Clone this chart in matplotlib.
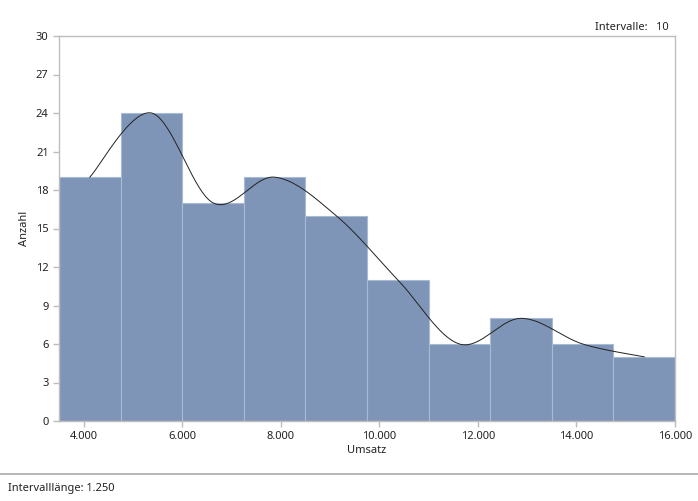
import numpy as np
import matplotlib
matplotlib.use('Agg')
from matplotlib import pyplot as plt

plt.rcParams['font.family'] = ['Noto Sans', 'DejaVu Sans']
plt.rcParams['font.size'] = 8

# histogram data
bin_edges = [3500, 4750, 6000, 7250, 8500, 9750, 11000, 12250, 13500, 14750, 16000]
counts = [19, 24, 17, 19, 16, 11, 6, 8, 6, 5]
x_ticks = [4000, 6000, 8000, 10000, 12000, 14000, 16000]
y_ticks = [0, 3, 6, 9, 12, 15, 18, 21, 24, 27, 30]


def catmull_rom(xs, ys, steps=40):
    """ cardinal (Catmull-Rom) spline through the bar tops """
    pts = np.column_stack([xs, ys]).astype(float)
    pts = np.vstack([pts[0], pts, pts[-1]])
    t = np.linspace(0, 1, steps)[:, None]
    out = []
    for i in range(1, len(pts) - 2):
        p0, p1, p2, p3 = pts[i - 1], pts[i], pts[i + 1], pts[i + 2]
        seg = 0.5 * ((2 * p1) + (-p0 + p2) * t
                     + (2 * p0 - 5 * p1 + 4 * p2 - p3) * t ** 2
                     + (-p0 + 3 * p1 - 3 * p2 + p3) * t ** 3)
        out.append(seg)
    out = np.vstack(out)
    return out[:, 0], out[:, 1]


edges = np.array(bin_edges)
widths = np.diff(edges)
centers = edges[:-1] + widths / 2

fig = plt.figure(figsize=(6.98, 5.01), dpi=100)
ax = fig.add_axes([59 / 698, 1 - 421 / 501, 616 / 698, 385 / 501])

ax.bar(edges[:-1], counts, width=widths, align='edge',
       color='#7f95b7', edgecolor='#a9bad4', linewidth=0.8, zorder=2)

cx, cy = catmull_rom(centers, counts)
ax.plot(cx, cy, color='#222222', linewidth=0.7, zorder=3)

ax.set_xlim(3500, 16000)
ax.set_ylim(0, 30)
ax.set_xticks(x_ticks)
ax.set_xticklabels(['{:,}'.format(v).replace(',', '.') for v in x_ticks])
ax.set_yticks(y_ticks)
for s in ax.spines.values():
    s.set_color('#bdbdbd')
    s.set_linewidth(1)
ax.tick_params(colors='#bdbdbd', labelcolor='#222222', length=4, width=1)
ax.set_xlabel('Umsatz', color='#222222', labelpad=2)
ax.set_ylabel('Anzahl', color='#222222', labelpad=4)

fig.text(669 / 698, 1 - 27 / 501, 'Intervalle:   10', ha='right', va='center', color='#222222')
fig.add_artist(plt.Line2D([0, 1], [1 - 474 / 501] * 2, color='#aaaaaa', linewidth=1.2))
fig.text(8 / 698, 1 - 489 / 501, 'Intervalllänge: 1.250', ha='left', va='center', color='#222222')

fig.savefig('out.png', dpi=100)
